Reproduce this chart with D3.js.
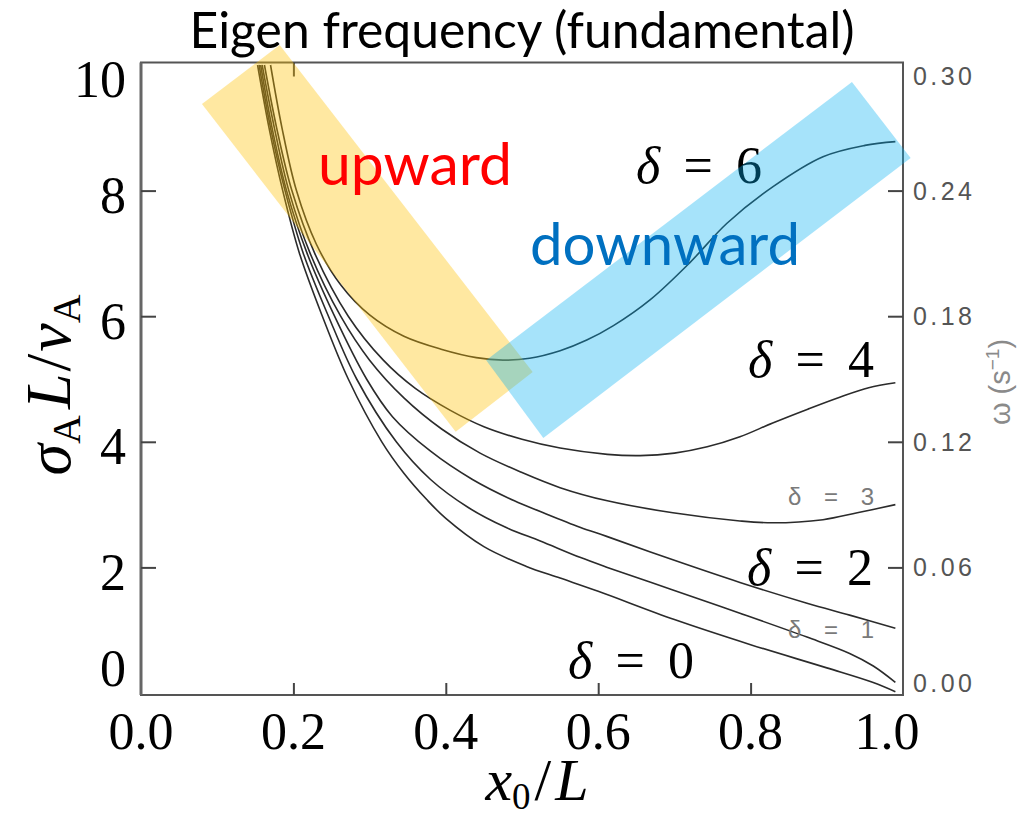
<!DOCTYPE html>
<html>
<head>
<meta charset="utf-8">
<script src="https://cdn.jsdelivr.net/npm/d3@7"></script>
<style>
  body { margin: 0; background: #fff; }
</style>
</head>
<body>
<div id="chart"></div>
<script>
'use strict';

// axis ticks
var xTicks = [0.0, 0.2, 0.4, 0.6, 0.8, 1.0];
var yTicks = [0, 2, 4, 6, 8, 10];
var omegaTicks = [0.00, 0.06, 0.12, 0.18, 0.24, 0.30];

// eigen frequency curves, [x0/L, sigma_A L / v_A]
var delta0 = [[0.153,10.0],[0.168,9.0],[0.186,8.0],[0.208,7.0],[0.238,6.0],[0.272,5.0],[0.316,4.0],[0.345,3.50],[0.375,3.08],[0.400,2.78],[0.450,2.33],[0.505,2.02],[0.550,1.83],[0.600,1.62],[0.700,1.17],[0.800,0.77],[0.900,0.40],[0.960,0.17],[0.990,0.02]];
var delta1 = [[0.155,10.0],[0.170,9.0],[0.189,8.0],[0.213,7.0],[0.246,6.0],[0.283,5.0],[0.335,4.0],[0.380,3.40],[0.430,2.95],[0.480,2.63],[0.524,2.42],[0.576,2.16],[0.612,2.00],[0.698,1.64],[0.786,1.27],[0.874,0.89],[0.930,0.63],[0.961,0.43],[0.990,0.17]];
var delta2 = [[0.157,10.0],[0.172,9.0],[0.191,8.0],[0.218,7.0],[0.254,6.0],[0.296,5.0],[0.330,4.40],[0.380,3.85],[0.435,3.40],[0.490,3.06],[0.524,2.89],[0.576,2.64],[0.612,2.49],[0.698,2.12],[0.786,1.76],[0.874,1.43],[0.930,1.24],[0.990,1.03]];
var delta3 = [[0.159,10.0],[0.175,9.0],[0.194,8.0],[0.222,7.0],[0.262,6.0],[0.300,5.30],[0.345,4.70],[0.395,4.20],[0.445,3.82],[0.500,3.51],[0.550,3.27],[0.612,3.06],[0.698,2.87],[0.786,2.74],[0.829,2.71],[0.895,2.76],[0.940,2.87],[0.990,3.00]];
var delta4 = [[0.162,10.0],[0.178,9.0],[0.198,8.0],[0.228,7.0],[0.272,6.0],[0.318,5.30],[0.360,4.85],[0.406,4.50],[0.450,4.24],[0.500,4.04],[0.550,3.90],[0.612,3.80],[0.655,3.78],[0.700,3.82],[0.743,3.92],[0.786,4.08],[0.829,4.30],[0.875,4.52],[0.917,4.71],[0.955,4.86],[0.990,4.94]];
var delta6 = [[0.170,10.0],[0.185,9.0],[0.204,8.0],[0.230,7.15],[0.262,6.50],[0.300,6.02],[0.345,5.68],[0.395,5.47],[0.440,5.34],[0.475,5.30],[0.510,5.33],[0.550,5.45],[0.585,5.62],[0.620,5.85],[0.668,6.26],[0.720,6.85],[0.769,7.48],[0.829,8.06],[0.895,8.54],[0.950,8.72],[0.990,8.78]];

var curves = [delta0, delta1, delta2, delta3, delta4, delta6];

// highlight bands (corners in data units)
var upwardBand = [[0.080, 9.38], [0.182, 10.32], [0.514, 5.11], [0.413, 4.16]];
var downwardBand = [[0.453, 5.30], [0.933, 9.73], [1.010, 8.52], [0.528, 4.06]];

var titleText = 'Eigen frequency (fundamental)';
var bigDeltaLabels = ['6', '4', '2', '0'];
var smallDeltaLabels = ['3', '1'];

var chart = {};
chart.margins = {top: 65, bottom: 126, left: 141, right: 118};
chart.cw = 762;
chart.ch = 628;
chart.serif = '"Liberation Serif", "DejaVu Serif", serif';
chart.sans = 'Lato, "Open Sans", sans-serif';
chart.helv = '"Liberation Sans", Arial, sans-serif';

chart.xScale = d3.scaleLinear().domain([0, 1]).range([0, chart.cw]);
chart.yScale = d3.scaleLinear().domain([0, 10]).range([chart.ch, 0]);
chart.wScale = d3.scaleLinear().domain([0, 0.30]).range([chart.ch, 0]);

// shrink / grow font so the text covers a given width
chart.fitWidth = function (sel, width) {
    var w = sel.node().getComputedTextLength();
    var fs = parseFloat(sel.attr('font-size'));
    sel.attr('font-size', fs * width / w);
};

var svg = d3.select('#chart').append('svg')
    .attr('width', 1021)
    .attr('height', 819)
    .style('background', '#fff');

var g = svg.append('g')
    .attr('transform', 'translate(' + chart.margins.left + ',' + chart.margins.top + ')');

// curves
var line = d3.line()
    .x(function (d) { return chart.xScale(d[0]); })
    .y(function (d) { return chart.yScale(d[1]); })
    .curve(d3.curveCatmullRom.alpha(0.5));

g.selectAll('.curve')
    .data(curves)
    .enter()
    .append('path')
    .attr('class', 'curve')
    .attr('d', line)
    .attr('fill', 'none')
    .attr('stroke', '#2b2b2b')
    .attr('stroke-width', 1.6);

// frame
g.append('rect')
    .attr('x', 0)
    .attr('y', -2.5)
    .attr('width', chart.cw)
    .attr('height', chart.ch + 4.5)
    .attr('fill', 'none')
    .attr('stroke', '#555')
    .attr('stroke-width', 2);
g.append('line')
    .attr('x1', 0).attr('x2', 0)
    .attr('y1', -2.5).attr('y2', chart.ch + 2)
    .attr('stroke', '#666')
    .attr('stroke-width', 3);

// inward ticks
var leftAxis = g.append('g')
    .call(d3.axisLeft(chart.yScale).tickValues([2, 4, 6, 8]).tickSize(-15).tickFormat(''));
var bottomAxis = g.append('g')
    .attr('transform', 'translate(0,' + (chart.ch + 2) + ')')
    .call(d3.axisBottom(chart.xScale).tickValues([0.2, 0.4, 0.6, 0.8]).tickSize(-12).tickFormat(''));
var topAxis = g.append('g')
    .attr('transform', 'translate(0,-2.5)')
    .call(d3.axisTop(chart.xScale).tickValues([0.2]).tickSize(-14).tickFormat(''));
var rightAxis = g.append('g')
    .attr('transform', 'translate(' + chart.cw + ',0)')
    .call(d3.axisRight(chart.wScale).tickValues([0.06, 0.12, 0.18, 0.24]).tickSize(-15).tickFormat(''));
[leftAxis, bottomAxis, topAxis, rightAxis].forEach(function (a) {
    a.select('.domain').remove();
    a.selectAll('.tick line').attr('stroke', '#444').attr('stroke-width', 2);
});

// tick labels
g.selectAll('.ylab')
    .data(yTicks)
    .enter()
    .append('text')
    .attr('class', 'ylab')
    .attr('x', -15)
    .attr('y', function (d) { return Math.max(14, Math.min(603, chart.yScale(d) + 5)); })
    .attr('dy', '0.34em')
    .attr('text-anchor', 'end')
    .attr('font-family', chart.serif)
    .attr('font-size', 52)
    .attr('fill', '#000')
    .text(function (d) { return d; });

g.selectAll('.xlab')
    .data(xTicks)
    .enter()
    .append('text')
    .attr('class', 'xlab')
    .attr('x', function (d) { return Math.min(746, chart.xScale(d)); })
    .attr('y', 684)
    .attr('text-anchor', 'middle')
    .attr('font-family', chart.serif)
    .attr('font-size', 52)
    .attr('fill', '#000')
    .text(function (d) { return d.toFixed(1); });

g.selectAll('.wlab')
    .data(omegaTicks)
    .enter()
    .append('text')
    .attr('class', 'wlab')
    .attr('x', chart.cw + 10)
    .attr('y', function (d) { return Math.max(11, Math.min(618, chart.wScale(d))); })
    .attr('dy', '0.36em')
    .attr('font-family', chart.helv)
    .attr('font-size', 25)
    .attr('textLength', 59)
    .attr('lengthAdjust', 'spacing')
    .attr('fill', '#555')
    .text(function (d) { return d.toFixed(2); });

// omega axis title
var wTitle = svg.append('text')
    .attr('transform', 'translate(1010,382) rotate(-90)')
    .attr('text-anchor', 'middle')
    .attr('font-family', chart.helv)
    .attr('font-size', 29)
    .attr('fill', '#8a8a8a');
wTitle.append('tspan').text('ω (s');
wTitle.append('tspan').attr('dy', -11).attr('font-size', 19).text('−1');
wTitle.append('tspan').attr('dy', 11).text(')');

// small labels from the original figure
var smallPos = [[647, 440], [647, 573]];
g.selectAll('.smallLab')
    .data(smallDeltaLabels)
    .enter()
    .append('text')
    .attr('class', 'smallLab')
    .attr('x', function (d, i) { return smallPos[i][0]; })
    .attr('y', function (d, i) { return smallPos[i][1]; })
    .attr('font-family', chart.helv)
    .attr('font-size', 24)
    .attr('fill', '#7a7a7a')
    .attr('textLength', 86)
    .attr('lengthAdjust', 'spacing')
    .style('white-space', 'pre')
    .text(function (d) { return 'δ = ' + d; });

// big delta labels (under the bands)
var bigPos = [[495, 118], [607, 312], [606, 520], [427, 613]];
bigDeltaLabels.forEach(function (d, i) {
    var t = g.append('text')
        .attr('x', bigPos[i][0])
        .attr('y', bigPos[i][1])
        .attr('font-family', chart.serif)
        .attr('font-size', 52)
        .attr('fill', '#000')
        .attr('textLength', 126)
        .attr('lengthAdjust', 'spacing')
        .style('white-space', 'pre');
    t.append('tspan').attr('font-style', 'italic').text('δ');
    t.append('tspan').text(' = ' + d);
});

// bands
var bandPath = function (pts) {
    return 'M' + pts.map(function (p) {
        return chart.xScale(p[0]) + ',' + chart.yScale(p[1]);
    }).join('L') + 'Z';
};
g.append('path')
    .attr('d', bandPath(upwardBand))
    .attr('fill', 'rgb(255,192,0)')
    .attr('fill-opacity', 0.37);
g.append('path')
    .attr('d', bandPath(downwardBand))
    .attr('fill', 'rgb(0,176,240)')
    .attr('fill-opacity', 0.35);

// annotations
var up = g.append('text')
    .attr('x', 274)
    .attr('y', 120)
    .attr('text-anchor', 'middle')
    .attr('font-family', chart.sans)
    .attr('font-size', 50)
    .attr('fill', '#ff0000')
    .text('upward');
chart.fitWidth(up, 194);

var down = g.append('text')
    .attr('x', 524)
    .attr('y', 200)
    .attr('text-anchor', 'middle')
    .attr('font-family', chart.sans)
    .attr('font-size', 50)
    .attr('fill', '#0070c0')
    .text('downward');
chart.fitWidth(down, 270);

// title
var title = svg.append('text')
    .attr('x', 522)
    .attr('y', 48)
    .attr('text-anchor', 'middle')
    .attr('font-family', chart.sans)
    .attr('font-size', 40)
    .attr('fill', '#000')
    .text(titleText);
chart.fitWidth(title, 665);

// axis titles
var yTitle = svg.append('text')
    .attr('transform', 'translate(70,385) rotate(-90)')
    .attr('text-anchor', 'middle')
    .attr('font-family', chart.serif)
    .attr('font-size', 64)
    .attr('fill', '#000');
yTitle.append('tspan').attr('font-style', 'italic').text('σ');
yTitle.append('tspan').attr('font-size', 40).attr('dy', 10).text('A');
yTitle.append('tspan').attr('font-style', 'italic').attr('dy', -10).attr('dx', 6).text('L');
yTitle.append('tspan').attr('dx', 2).text('/');
yTitle.append('tspan').attr('font-style', 'italic').attr('dx', 2).text('v');
yTitle.append('tspan').attr('font-size', 40).attr('dy', 10).text('A');

var xTitle = svg.append('text')
    .attr('x', 537)
    .attr('y', 800)
    .attr('text-anchor', 'middle')
    .attr('font-family', chart.serif)
    .attr('font-size', 60)
    .attr('fill', '#000');
xTitle.append('tspan').attr('font-style', 'italic').text('x');
xTitle.append('tspan').attr('font-size', 37).attr('dy', 9).text('0');
xTitle.append('tspan').attr('dy', -9).attr('dx', 4).text('/');
xTitle.append('tspan').attr('font-style', 'italic').attr('dx', 4).text('L');
</script>
</body>
</html>
